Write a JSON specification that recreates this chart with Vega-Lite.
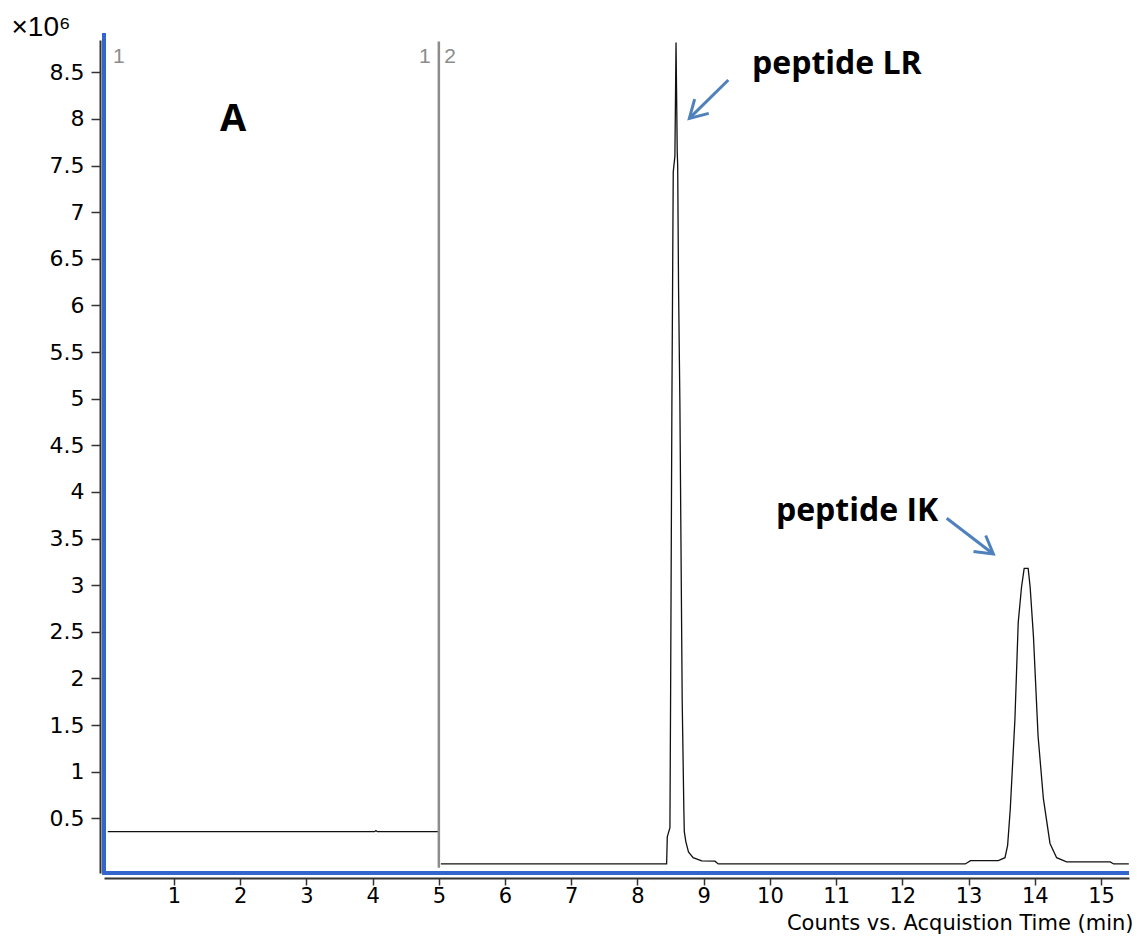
{
  "$schema": "https://vega.github.io/schema/vega-lite/v6.json",
  "width": 1025,
  "height": 833,
  "autosize": {"type": "none"},
  "padding": {"left": 104, "top": 40, "right": 10, "bottom": 65},
  "background": "white",
  "config": {"view": {"stroke": null}, "font": "DejaVu Sans"},
  "datasets": {
    "trace": [
      {"seg": 1, "t": 0.0, "v": 0.356},
      {"seg": 1, "t": 4.03, "v": 0.356},
      {"seg": 1, "t": 4.05, "v": 0.368},
      {"seg": 1, "t": 4.07, "v": 0.356},
      {"seg": 1, "t": 5.0, "v": 0.356},
      {"seg": 2, "t": 5.03, "v": 0.01},
      {"seg": 2, "t": 8.44, "v": 0.01},
      {"seg": 2, "t": 8.45, "v": 0.3},
      {"seg": 2, "t": 8.49, "v": 0.4},
      {"seg": 2, "t": 8.5, "v": 1.8},
      {"seg": 2, "t": 8.52, "v": 5.0},
      {"seg": 2, "t": 8.54, "v": 7.43},
      {"seg": 2, "t": 8.565, "v": 7.6},
      {"seg": 2, "t": 8.575, "v": 8.31},
      {"seg": 2, "t": 8.582, "v": 8.82},
      {"seg": 2, "t": 8.59, "v": 8.31},
      {"seg": 2, "t": 8.6, "v": 7.65},
      {"seg": 2, "t": 8.607, "v": 7.5},
      {"seg": 2, "t": 8.62, "v": 6.2},
      {"seg": 2, "t": 8.64, "v": 4.98},
      {"seg": 2, "t": 8.675, "v": 1.77},
      {"seg": 2, "t": 8.7, "v": 0.6},
      {"seg": 2, "t": 8.707, "v": 0.356},
      {"seg": 2, "t": 8.73, "v": 0.25},
      {"seg": 2, "t": 8.77, "v": 0.14},
      {"seg": 2, "t": 8.84, "v": 0.077},
      {"seg": 2, "t": 8.97, "v": 0.042},
      {"seg": 2, "t": 9.17, "v": 0.04},
      {"seg": 2, "t": 9.22, "v": 0.01},
      {"seg": 2, "t": 12.95, "v": 0.01},
      {"seg": 2, "t": 13.03, "v": 0.045},
      {"seg": 2, "t": 13.45, "v": 0.045},
      {"seg": 2, "t": 13.55, "v": 0.077},
      {"seg": 2, "t": 13.59, "v": 0.21},
      {"seg": 2, "t": 13.63, "v": 0.6},
      {"seg": 2, "t": 13.7, "v": 1.56},
      {"seg": 2, "t": 13.75, "v": 2.6},
      {"seg": 2, "t": 13.8, "v": 2.98},
      {"seg": 2, "t": 13.84, "v": 3.18},
      {"seg": 2, "t": 13.9, "v": 3.18},
      {"seg": 2, "t": 13.93, "v": 2.98},
      {"seg": 2, "t": 13.98, "v": 2.45},
      {"seg": 2, "t": 14.05, "v": 1.38},
      {"seg": 2, "t": 14.13, "v": 0.71},
      {"seg": 2, "t": 14.23, "v": 0.23},
      {"seg": 2, "t": 14.33, "v": 0.077},
      {"seg": 2, "t": 14.48, "v": 0.032},
      {"seg": 2, "t": 15.14, "v": 0.032},
      {"seg": 2, "t": 15.19, "v": 0.01},
      {"seg": 2, "t": 15.42, "v": 0.01}
    ],
    "frameV": [{"t": -0.057, "v": -0.1, "v2": 8.92}],
    "frameH": [{"t": -0.085, "t2": 15.423, "v": -0.087}],
    "divider": [{"t": 5.0, "v": -0.03, "v2": 8.83}],
    "arrows": [
      {"name": "LR", "t": 9.372, "v": 8.417, "t2": 8.783, "v2": 8.006},
      {"name": "IK", "t": 12.67, "v": 3.717, "t2": 13.374, "v2": 3.334}
    ],
    "segLabels": [
      {"t": 0.08, "v": 8.603, "label": "1"},
      {"t": 4.70, "v": 8.603, "label": "1"},
      {"t": 5.08, "v": 8.603, "label": "2"}
    ],
    "peptides": [
      {"t": 9.729, "v": 8.481, "label": "peptide LR"},
      {"t": 10.09, "v": 3.686, "label": "peptide IK"}
    ],
    "panel": [{"t": 1.695, "v": 7.871, "label": "A"}]
  },
  "encoding": {
    "x": {
      "field": "t", "type": "quantitative",
      "scale": {"domain": [-0.057, 15.423], "nice": false, "zero": false},
      "axis": {
        "values": [1, 2, 3, 4, 5, 6, 7, 8, 9, 10, 11, 12, 13, 14, 15],
        "format": "d", "grid": false, "offset": 5,
        "domainColor": "#333333", "domainWidth": 2,
        "tickColor": "#333333", "tickWidth": 1.5, "tickSize": 7,
        "labelPadding": 0, "labelFont": "DejaVu Sans", "labelFontSize": 21, "labelColor": "#000000",
        "labelFlush": false, "labelOverlap": false,
        "title": "Counts vs. Acquistion Time (min)",
        "titleFont": "DejaVu Sans", "titleFontSize": 21, "titleFontWeight": "normal", "titleColor": "#000000",
        "titleAnchor": "end", "titleAlign": "right", "titleBaseline": "alphabetic",
        "titleX": 1029, "titleY": 51
      }
    },
    "y": {
      "field": "v", "type": "quantitative",
      "scale": {"domain": [-0.087, 8.846], "nice": false, "zero": false},
      "axis": {
        "values": [0.5, 1, 1.5, 2, 2.5, 3, 3.5, 4, 4.5, 5, 5.5, 6, 6.5, 7, 7.5, 8, 8.5],
        "format": "~g", "grid": false, "offset": 4,
        "domainColor": "#333333", "domainWidth": 2,
        "tickColor": "#333333", "tickWidth": 1.5, "tickSize": 9,
        "labelPadding": 7, "labelFont": "DejaVu Sans", "labelFontSize": 22, "labelColor": "#000000",
        "labelFlush": false, "labelOverlap": false,
        "title": "×10⁶",
        "titleFont": "Liberation Sans", "titleFontSize": 28, "titleFontWeight": "normal", "titleColor": "#000000",
        "titleAngle": 0, "titleAlign": "left", "titleBaseline": "alphabetic",
        "titleX": -89, "titleY": -5
      }
    }
  },
  "layer": [
    {
      "data": {"name": "trace"},
      "mark": {"type": "line", "color": "#111111", "strokeWidth": 1.3},
      "encoding": {
        "detail": {"field": "seg", "type": "nominal"}
      }
    },
    {
      "data": {"name": "frameV"},
      "mark": {"type": "rule", "color": "#3366cc", "strokeWidth": 4},
      "encoding": {
        "y2": {"field": "v2"}
      }
    },
    {
      "data": {"name": "frameH"},
      "mark": {"type": "rule", "color": "#3366cc", "strokeWidth": 4},
      "encoding": {
        "x2": {"field": "t2"}
      }
    },
    {
      "data": {"name": "divider"},
      "mark": {"type": "rule", "color": "#8c8c8c", "strokeWidth": 2.5},
      "encoding": {
        "y2": {"field": "v2"}
      }
    },
    {
      "data": {"name": "arrows"},
      "mark": {"type": "rule", "color": "#4f81bd", "strokeWidth": 3},
      "encoding": {
        "x2": {"field": "t2"},
        "y2": {"field": "v2"}
      }
    },
    {
      "data": {"name": "arrows"},
      "transform": [{"filter": "datum.name === 'LR'"}],
      "mark": {"type": "point", "shape": "M -1 -0.58 L 0 0 L -1 0.58", "filled": false, "stroke": "#4f81bd", "strokeWidth": 3, "size": 1200, "angle": 135.5, "opacity": 1},
      "encoding": {
        "x": {"field": "t2", "type": "quantitative"},
        "y": {"field": "v2", "type": "quantitative"}
      }
    },
    {
      "data": {"name": "arrows"},
      "transform": [{"filter": "datum.name === 'IK'"}],
      "mark": {"type": "point", "shape": "M -1 -0.58 L 0 0 L -1 0.58", "filled": false, "stroke": "#4f81bd", "strokeWidth": 3, "size": 1200, "angle": 37.5, "opacity": 1},
      "encoding": {
        "x": {"field": "t2", "type": "quantitative"},
        "y": {"field": "v2", "type": "quantitative"}
      }
    },
    {
      "data": {"name": "segLabels"},
      "mark": {"type": "text", "align": "left", "baseline": "alphabetic", "font": "Liberation Sans", "fontSize": 21, "color": "#8c8c8c"},
      "encoding": {
        "text": {"field": "label"}
      }
    },
    {
      "data": {"name": "peptides"},
      "mark": {"type": "text", "align": "left", "baseline": "alphabetic", "font": "Open Sans", "fontWeight": "bold", "fontSize": 32, "color": "#000000"},
      "encoding": {
        "text": {"field": "label"}
      }
    },
    {
      "data": {"name": "panel"},
      "mark": {"type": "text", "align": "left", "baseline": "alphabetic", "font": "Open Sans", "fontWeight": "bold", "fontSize": 38, "color": "#000000"},
      "encoding": {
        "text": {"field": "label"}
      }
    }
  ]
}
